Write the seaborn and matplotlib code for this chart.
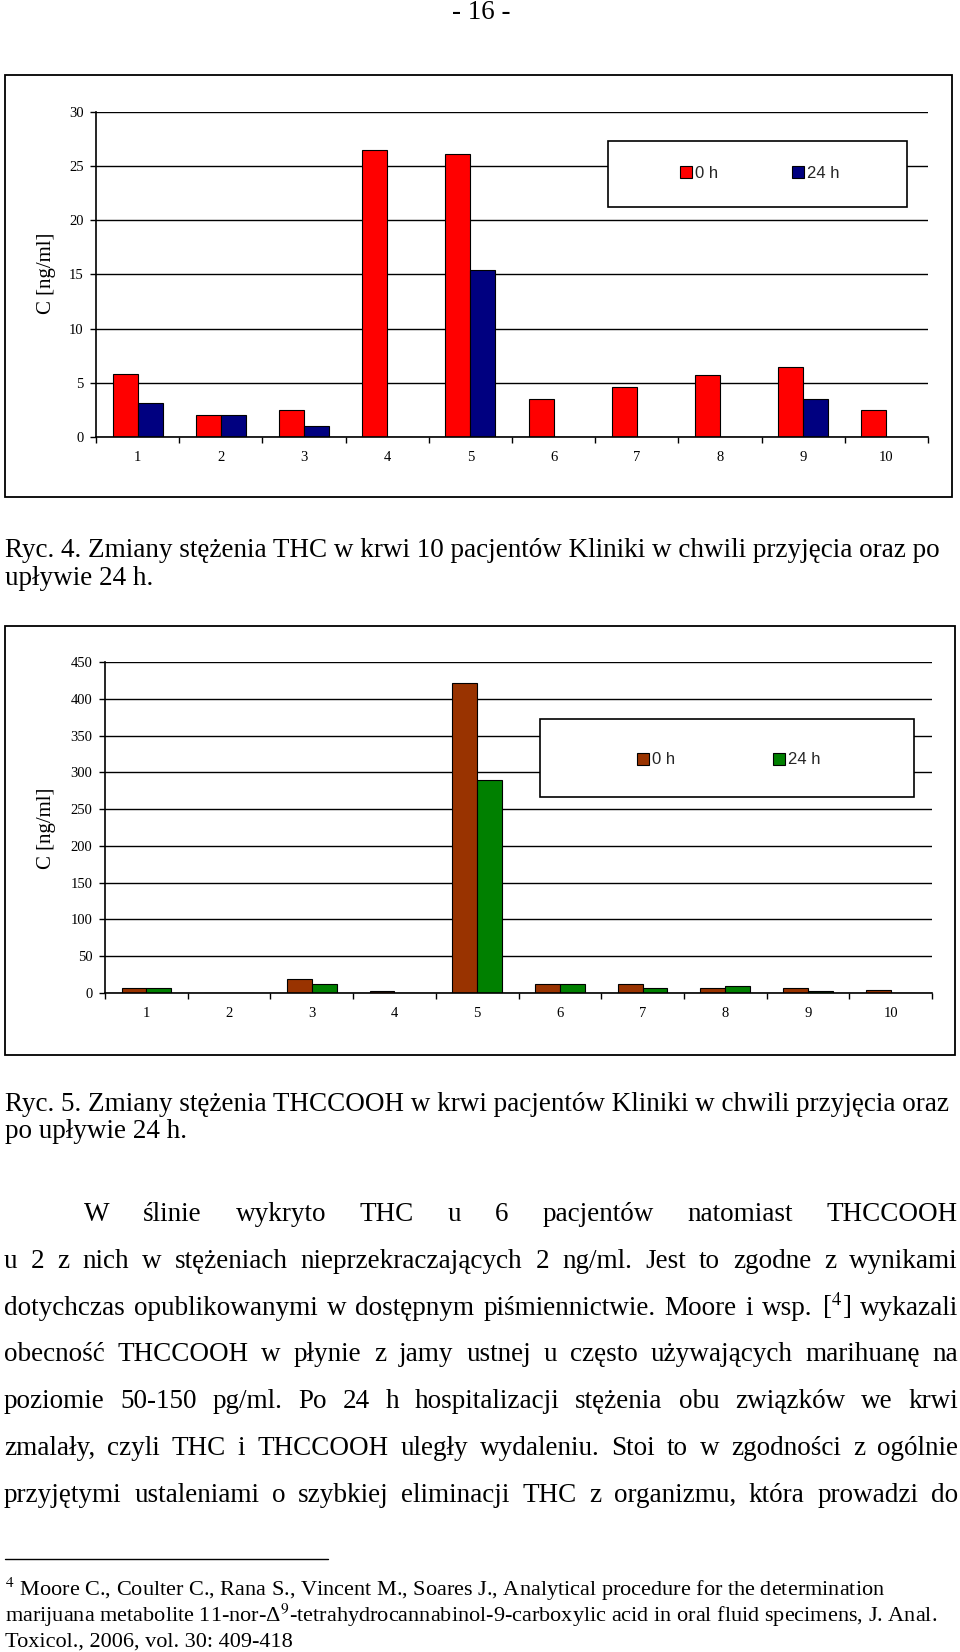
import numpy as np
import pandas as pd
import seaborn as sns
import matplotlib
matplotlib.use("Agg")
import matplotlib.pyplot as plt
from matplotlib.patches import Rectangle, Patch
from matplotlib.ticker import FixedLocator

# ---------------- data ----------------
patients = ["1", "2", "3", "4", "5", "6", "7", "8", "9", "10"]
series = ["0 h", "24 h"]
thc_0h = [5.85, 2.06, 2.46, 26.5, 26.1, 3.54, 4.6, 5.7, 6.5, 2.46]
thc_24h = [3.17, 2.06, 0.98, 0.0, 15.45, 0.0, 0.0, 0.0, 3.54, 0.0]
thccooh_0h = [6.3, 0.0, 19.0, 3.2, 421.0, 12.7, 12.7, 6.8, 6.8, 4.5]
thccooh_24h = [6.3, 0.0, 12.7, 0.0, 290.0, 12.7, 6.8, 9.0, 3.2, 0.0]
thc_yticks = [0, 5, 10, 15, 20, 25, 30]
thccooh_yticks = [0, 50, 100, 150, 200, 250, 300, 350, 400, 450]
ylabel = "C [ng/ml]"

caption1 = ["Ryc. 4. Zmiany stężenia THC w krwi 10 pacjentów Kliniki w chwili przyjęcia oraz po",
            "upływie 24 h."]
caption2 = ["Ryc. 5. Zmiany stężenia THCCOOH w krwi pacjentów Kliniki w chwili przyjęcia oraz",
            "po upływie 24 h."]
paragraph = [
    "W ślinie wykryto THC u 6 pacjentów natomiast THCCOOH",
    "u 2 z nich w stężeniach nieprzekraczających 2 ng/ml. Jest to zgodne z wynikami",
    "dotychczas opublikowanymi w dostępnym piśmiennictwie. Moore i wsp. [$^{4}$] wykazali",
    "obecność THCCOOH w płynie z jamy ustnej u często używających marihuanę na",
    "poziomie 50-150 pg/ml. Po 24 h hospitalizacji stężenia obu związków we krwi",
    "zmalały, czyli THC i THCCOOH uległy wydaleniu. Stoi to w zgodności z ogólnie",
    "przyjętymi ustaleniami o szybkiej eliminacji THC z organizmu, która prowadzi do",
]
footnote = [
    "$^{4}$ Moore C., Coulter C., Rana S., Vincent M., Soares J., Analytical procedure for the determination",
    "marijuana metabolite 11-nor-Δ$^{9}$-tetrahydrocannabinol-9-carboxylic acid in oral fluid specimens, J. Anal.",
    "Toxicol., 2006, vol. 30: 409-418",
]
page_number = "- 16 -"

# ---------------- style ----------------
sns.set_theme(style="white")
plt.rcParams["font.family"] = ["Liberation Serif", "DejaVu Serif"]
plt.rcParams["mathtext.fontset"] = "stix"

W, H = 960, 1652
fig = plt.figure(figsize=(W / 100, H / 100), dpi=100)
fig.patch.set_facecolor("white")


def fx(x):
    return x / W


def fy(y):
    return 1 - y / H


def make_axes(left, right, top, bottom):
    return fig.add_axes([fx(left), fy(bottom), (right - left) / W, (bottom - top) / H])


def draw_chart(ax, v0, v24, colors, yticks, box, legend_box, legend_entries_x, legend_y, label_xy):
    df = pd.DataFrame({
        "patient": patients * 2,
        "time": [series[0]] * len(patients) + [series[1]] * len(patients),
        "value": list(v0) + list(v24),
    })
    sns.barplot(data=df, x="patient", y="value", hue="time", order=patients,
                hue_order=series, palette=colors, saturation=1, edgecolor="black",
                linewidth=0.8, width=0.6, errorbar=None, legend=False, ax=ax, zorder=2)
    ax.set_ylim(yticks[0], yticks[-1])
    ax.set_xlim(-0.5, len(patients) - 0.5)
    ax.set_yticks(yticks)
    ax.set_yticklabels([str(t) for t in yticks])
    ax.set_axisbelow(True)
    ax.yaxis.grid(True, color="black", linewidth=1.0)
    ax.xaxis.grid(False)
    for s in ["top", "right"]:
        ax.spines[s].set_visible(False)
    for s in ["left", "bottom"]:
        ax.spines[s].set_color("black")
        ax.spines[s].set_linewidth(1.2)
    ax.xaxis.set_minor_locator(FixedLocator(np.arange(-0.5, len(patients), 1.0)))
    ax.tick_params(axis="x", which="major", length=0, pad=10, labelsize=10.5, colors="black")
    ax.tick_params(axis="x", which="minor", length=4, width=1, direction="out", color="black", bottom=True)
    ax.tick_params(axis="y", which="major", length=4, width=1, direction="out", pad=5,
                   labelsize=10.5, colors="black", left=True)
    ax.set_xlabel("")
    ax.set_ylabel(ylabel, fontsize=15, color="black")
    ax.yaxis.label.set_va("center")
    bb = ax.get_position()
    lx = (fx(label_xy[0]) - bb.x0) / bb.width
    ly = (fy(label_xy[1]) - bb.y0) / bb.height
    ax.yaxis.set_label_coords(lx, ly)

    # outer chart frame
    x0, y0, x1, y1 = box
    fig.patches.append(Rectangle((fx(x0), fy(y1)), (x1 - x0) / W, (y1 - y0) / H,
                                 transform=fig.transFigure, fill=False,
                                 edgecolor="black", linewidth=1.3, zorder=0))
    # legend frame
    lx0, ly0, lx1, ly1 = legend_box
    ax.add_patch(Rectangle((fx(lx0), fy(ly1)), (lx1 - lx0) / W, (ly1 - ly0) / H,
                           transform=fig.transFigure, facecolor="white",
                           edgecolor="black", linewidth=1.2, zorder=3, clip_on=False))
    for lab, col, xx in zip(series, colors, legend_entries_x):
        fig.legend(handles=[Patch(facecolor=col, edgecolor="black", linewidth=0.8, label=lab)],
                   loc="center left", bbox_to_anchor=(fx(xx), fy(legend_y)),
                   bbox_transform=fig.transFigure, frameon=False,
                   prop={"family": "Liberation Sans", "size": 12},
                   handlelength=0.7, handleheight=0.7, handletextpad=0.2,
                   borderpad=0, borderaxespad=0)


ax1 = make_axes(96, 928, 112, 437)
draw_chart(ax1, thc_0h, thc_24h, ["#FF0000", "#000080"], thc_yticks,
           box=(5, 75, 952, 497), legend_box=(608, 141, 907, 207),
           legend_entries_x=(680, 792), legend_y=173, label_xy=(46, 273))

ax2 = make_axes(105, 932, 662, 993)
draw_chart(ax2, thccooh_0h, thccooh_24h, ["#993300", "#008000"], thccooh_yticks,
           box=(5, 626, 955, 1055), legend_box=(540, 719, 914, 797),
           legend_entries_x=(637, 773), legend_y=760, label_xy=(46, 828))

# ---------------- page text ----------------
BODY = 19.5
fig.text(fx(481), fy(19), page_number, ha="center", va="baseline", fontsize=BODY, color="black")

for i, line in enumerate(caption1):
    fig.text(fx(5), fy(557 + 28 * i), line, ha="left", va="baseline", fontsize=BODY, color="black")
for i, line in enumerate(caption2):
    fig.text(fx(5), fy(1111 + 27 * i), line, ha="left", va="baseline", fontsize=BODY, color="black")

renderer = fig.canvas.get_renderer()


def justify(line, x_left, x_right, y, size):
    words = line.split(" ")
    texts = [fig.text(0, fy(y), w, ha="left", va="baseline", fontsize=size, color="black")
             for w in words]
    widths = [t.get_window_extent(renderer=renderer).width for t in texts]
    gap = (x_right - x_left - sum(widths)) / max(len(words) - 1, 1)
    x = x_left
    for t, w in zip(texts, widths):
        t.set_x(fx(x))
        x += w + gap


for i, line in enumerate(paragraph):
    left = 84 if i == 0 else 4
    justify(line, left, 958, 1221 + 46.8 * i, BODY)

# footnote rule and text
fig.add_artist(plt.Line2D([fx(5), fx(328)], [fy(1559), fy(1559)], transform=fig.transFigure,
                          color="black", linewidth=1.0))
for i, line in enumerate(footnote):
    fig.text(fx(5), fy(1596 + 25.5 * i), line, ha="left", va="baseline", fontsize=16, color="black")

fig.savefig("out.png", dpi=100, facecolor="white")
